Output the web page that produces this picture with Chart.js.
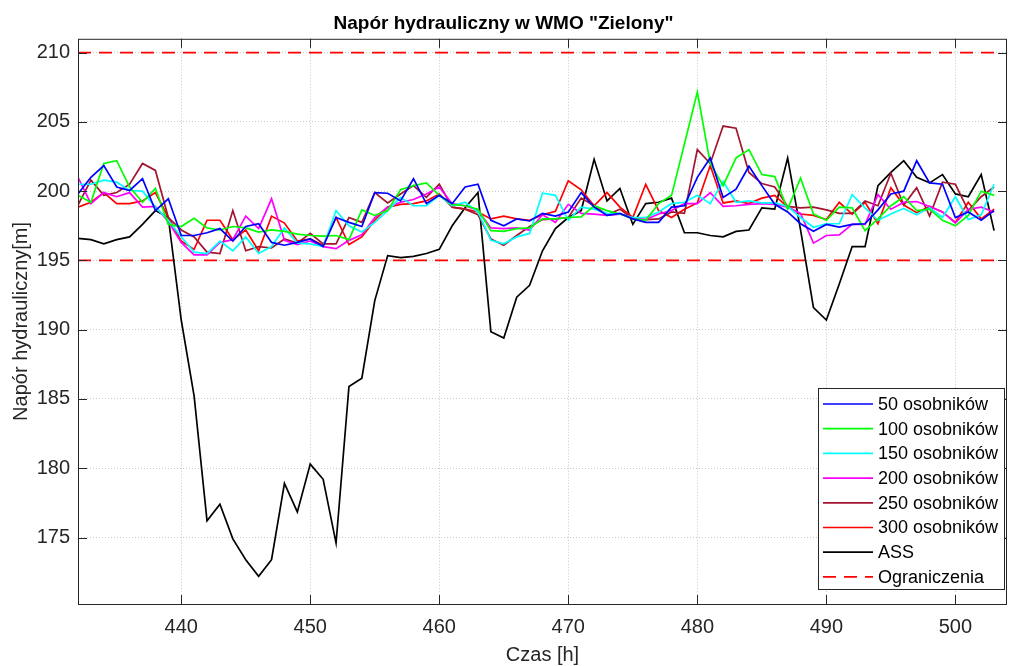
<!DOCTYPE html>
<html>
<head>
<meta charset="utf-8">
<script src="https://cdn.jsdelivr.net/npm/chart.js@4/dist/chart.umd.min.js"></script>
<style>
  html, body { margin: 0; padding: 0; background: #fff; }
  #wrap { width: 1009px; height: 666px; }
</style>
</head>
<body>
<div id="wrap"><canvas id="myChart" width="1009" height="666"></canvas></div>
<script>
// czas [h]
const hours = [432,433,434,435,436,437,438,439,440,441,442,443,444,445,446,447,448,449,450,451,452,453,454,455,456,457,458,459,460,461,462,463,464,465,466,467,
  468,469,470,471,472,473,474,475,476,477,478,479,480,481,482,483,484,485,486,487,488,489,490,491,492,493,494,495,496,497,498,499,500,501,502,503];

// napór dla kolejnych wielkości populacji
const s50 = [199.8,201.0,201.85,200.3,200.05,200.9,198.6,199.45,196.8,196.8,197.0,197.3,196.4,197.45,197.65,196.3,196.1,196.3,196.55,196.0,198.1,197.75,197.45,199.9,199.85,199.3,200.9,
  199.1,199.7,199.1,200.3,200.5,197.9,197.5,198.0,197.85,198.4,198.2,198.5,199.9,198.85,198.25,198.4,198.0,197.75,197.75,198.85,198.95,201.0,202.4,199.55,200.15,201.8,200.4,
  199.05,198.5,197.65,197.1,197.6,197.4,197.6,197.65,198.65,199.8,200.0,202.2,200.6,200.5,198.1,198.5,197.9,198.6];
const s100 = [199.7,199.2,202.0,202.2,200.3,199.2,200.2,197.6,197.45,198.05,197.35,197.2,197.45,197.35,197.05,197.2,197.1,196.9,196.8,196.75,196.8,196.5,198.65,198.25,198.6,200.1,200.4,
  200.6,199.7,199.05,198.95,198.7,197.15,197.1,197.3,197.35,198.0,198.0,198.1,198.15,198.95,198.6,198.35,198.0,197.9,199.1,199.7,203.4,207.15,202.0,200.4,202.4,203.0,201.2,
  201.05,198.7,200.95,198.35,197.9,198.85,198.8,197.15,198.0,198.95,199.6,198.6,198.7,197.9,197.5,198.25,200.0,199.7];
const s150 = [200.5,200.5,200.8,200.65,200.05,200.0,198.85,197.9,196.7,195.6,195.5,196.4,195.7,196.7,195.5,196.0,197.35,196.25,196.2,196.0,198.6,197.5,197.05,197.75,198.6,199.55,198.95,
  198.95,199.7,198.95,199.2,198.5,196.45,196.2,196.7,196.95,199.85,199.7,197.9,198.85,198.7,198.4,198.35,198.1,198.1,198.5,199.1,199.2,199.7,199.1,200.7,199.2,199.3,199.15,
  199.15,198.9,198.1,197.4,197.65,197.65,199.75,198.8,197.9,198.35,198.75,198.3,198.8,198.1,199.6,197.95,198.3,200.5];
const s200 = [201.0,199.1,199.9,199.6,199.9,198.85,198.9,197.8,196.3,195.4,195.4,196.3,196.5,198.2,197.3,199.45,196.45,196.15,196.4,196.0,195.85,196.45,196.85,198.1,198.85,199.2,199.4,
  199.8,200.3,199.1,198.95,198.6,197.35,197.3,197.35,197.2,198.3,197.75,199.05,198.4,198.35,198.25,198.35,198.1,197.95,198.35,198.6,199.1,199.1,199.9,198.9,198.95,199.05,199.1,
  199.05,198.85,198.4,196.25,196.8,196.85,197.6,197.6,199.75,198.7,199.2,199.25,198.9,198.5,197.7,198.7,198.85,198.5];
const s250 = [199.0,200.8,199.7,199.9,200.5,202.0,201.5,198.1,197.2,196.7,195.6,195.5,198.6,195.7,196.0,195.9,196.55,196.25,196.95,196.2,196.2,198.1,197.75,199.9,199.15,199.8,200.4,
  199.55,200.5,198.85,198.7,198.3,196.55,196.1,196.8,197.45,197.95,198.0,198.1,199.5,198.95,198.3,198.7,198.0,197.95,198.0,198.5,198.4,203.0,202.0,204.7,204.55,201.35,200.55,
  200.3,198.9,198.8,198.85,198.65,198.4,198.4,199.3,198.95,201.3,199.0,200.25,198.2,200.65,200.5,198.6,199.6,200.3];
const s300 = [198.85,199.2,199.9,199.1,199.1,199.3,199.9,198.1,196.4,195.8,197.9,197.9,196.5,197.2,195.7,198.2,197.7,196.4,196.55,196.1,198.1,196.15,196.7,197.9,198.85,199.05,199.1,
  199.3,199.8,198.85,198.7,198.5,198.0,198.2,198.0,197.9,198.3,198.55,200.75,200.1,198.95,199.9,198.85,198.1,200.5,198.6,198.1,198.7,199.15,201.85,199.15,199.3,199.1,199.5,
  199.7,198.85,198.35,198.25,197.95,199.2,198.35,199.2,197.65,200.25,199.0,198.45,198.9,198.5,197.75,199.2,198.0,198.7];
const ass = [196.6,196.5,196.2,196.5,196.7,197.6,198.6,198.1,190.7,185.2,176.2,177.4,174.9,173.4,172.2,173.4,178.9,176.85,180.3,179.2,174.6,185.9,186.5,192.1,195.35,195.2,195.3,
  195.5,195.8,197.5,198.8,199.9,189.85,189.4,192.35,193.2,195.7,197.3,198.1,198.6,202.3,199.3,200.2,197.6,199.1,199.2,199.5,197.0,197.0,196.8,196.7,197.1,197.2,198.8,
  198.7,202.4,197.2,191.6,190.7,193.3,196.0,196.0,200.4,201.35,202.2,201.0,200.6,201.2,199.8,199.6,201.2,197.15];

// ograniczenia
const limitUpper = 210;
const limitLower = 195;

const seriesNames = ['50 osobników','100 osobników','150 osobników','200 osobników','250 osobników','300 osobników','ASS'];
const seriesValues = [s50, s100, s150, s200, s250, s300, ass];
const seriesColors = ['#0000ff','#00ff00','#00ffff','#ff00ff','#a2142f','#ff0000','#000000'];

const xTicks = [440,450,460,470,480,490,500];
const yTicks = [175,180,185,190,195,200,205,210];

const toPoints = vals => hours.map((h, i) => ({x: h, y: vals[i]}));

const datasets = seriesValues.map((vals, i) => ({
  label: seriesNames[i],
  data: toPoints(vals),
  borderColor: seriesColors[i],
  backgroundColor: seriesColors[i],
  borderWidth: 1.7,
  pointRadius: 0,
  tension: 0,
  fill: false
}));

[limitUpper, limitLower].forEach(lim => {
  datasets.push({
    label: 'Ograniczenia',
    data: hours.map(h => ({x: h, y: lim})),
    borderColor: '#ff0000',
    borderWidth: 1.7,
    borderDash: [13, 8],
    pointRadius: 0,
    fill: false
  });
});

const FONT = "'Liberation Sans', Arial, Helvetica, sans-serif";
const TXT = '#262626';

// ramka, znaczniki i legenda rysowane jak w MATLAB
const boxPlugin = {
  id: 'boxPlugin',
  afterDraw(chart) {
    const {ctx, chartArea: a, scales: {x, y}} = chart;
    ctx.save();
    ctx.strokeStyle = TXT;
    ctx.lineWidth = 1;
    ctx.strokeRect(a.left + 0.5, a.top + 0.5, a.right - a.left - 1, a.bottom - a.top);
    ctx.beginPath();
    xTicks.forEach(v => {
      const px = Math.round(x.getPixelForValue(v)) + 0.5;
      ctx.moveTo(px, a.bottom); ctx.lineTo(px, a.bottom - 9);
      ctx.moveTo(px, a.top); ctx.lineTo(px, a.top + 9);
    });
    yTicks.forEach(v => {
      const py = Math.round(y.getPixelForValue(v)) + 0.5;
      ctx.moveTo(a.left, py); ctx.lineTo(a.left + 9, py);
      ctx.moveTo(a.right, py); ctx.lineTo(a.right - 9, py);
    });
    ctx.stroke();

    // legenda
    const entries = seriesNames.map((n, i) => ({name: n, color: seriesColors[i], dash: []}));
    entries.push({name: 'Ograniczenia', color: '#ff0000', dash: [13, 8]});
    const lx = 818, ly = 388, lw = 186, lh = 201;
    ctx.fillStyle = '#ffffff';
    ctx.fillRect(lx, ly, lw, lh);
    ctx.strokeStyle = TXT;
    ctx.strokeRect(lx + 0.5, ly + 0.5, lw, lh);
    ctx.font = '18px ' + FONT;
    ctx.textBaseline = 'middle';
    entries.forEach((e, i) => {
      const cy = 404 + i * 24.7;
      ctx.strokeStyle = e.color;
      ctx.lineWidth = 1.7;
      ctx.setLineDash(e.dash);
      ctx.beginPath();
      ctx.moveTo(823, cy); ctx.lineTo(873, cy);
      ctx.stroke();
      ctx.setLineDash([]);
      ctx.fillStyle = '#000000';
      ctx.fillText(e.name, 878, cy + 1);
    });
    ctx.restore();
  }
};

const ctx = document.getElementById('myChart').getContext('2d');
new Chart(ctx, {
  type: 'line',
  data: { datasets: datasets },
  options: {
    responsive: false,
    animation: false,
    layout: { padding: { left: 0, right: 2, top: 0, bottom: 0 } },
    plugins: {
      legend: { display: false },
      tooltip: { enabled: false },
      title: {
        display: true,
        text: 'Napór hydrauliczny w WMO "Zielony"',
        color: '#000000',
        font: { family: FONT, size: 19, weight: 'bold', lineHeight: 1.2 },
        padding: { top: 12, bottom: 4 }
      }
    },
    scales: {
      x: {
        type: 'linear',
        min: 432,
        max: 504,
        afterFit: s => { s.height = 62; },
        afterBuildTicks: s => { s.ticks = xTicks.map(v => ({value: v})); },
        grid: { color: 'rgba(38,38,38,0.25)', drawTicks: false },
        border: { display: false, dash: [1, 2] },
        ticks: { color: TXT, padding: 11, maxRotation: 0, font: { family: FONT, size: 20 } },
        title: { display: true, text: 'Czas [h]', color: TXT, font: { family: FONT, size: 20, lineHeight: 1.1 }, padding: 0 }
      },
      y: {
        type: 'linear',
        min: 170.2,
        max: 211,
        afterFit: s => { s.width = 78; },
        afterBuildTicks: s => { s.ticks = yTicks.map(v => ({value: v})); },
        grid: { color: 'rgba(38,38,38,0.25)', drawTicks: false },
        border: { display: false, dash: [1, 2] },
        ticks: { color: TXT, padding: 8, font: { family: FONT, size: 20 } },
        title: { display: true, text: 'Napór hydrauliczny[m]', color: TXT, font: { family: FONT, size: 20, lineHeight: 1.2 }, padding: { top: 9, bottom: 0 } }
      }
    }
  },
  plugins: [boxPlugin]
});
</script>
</body>
</html>
